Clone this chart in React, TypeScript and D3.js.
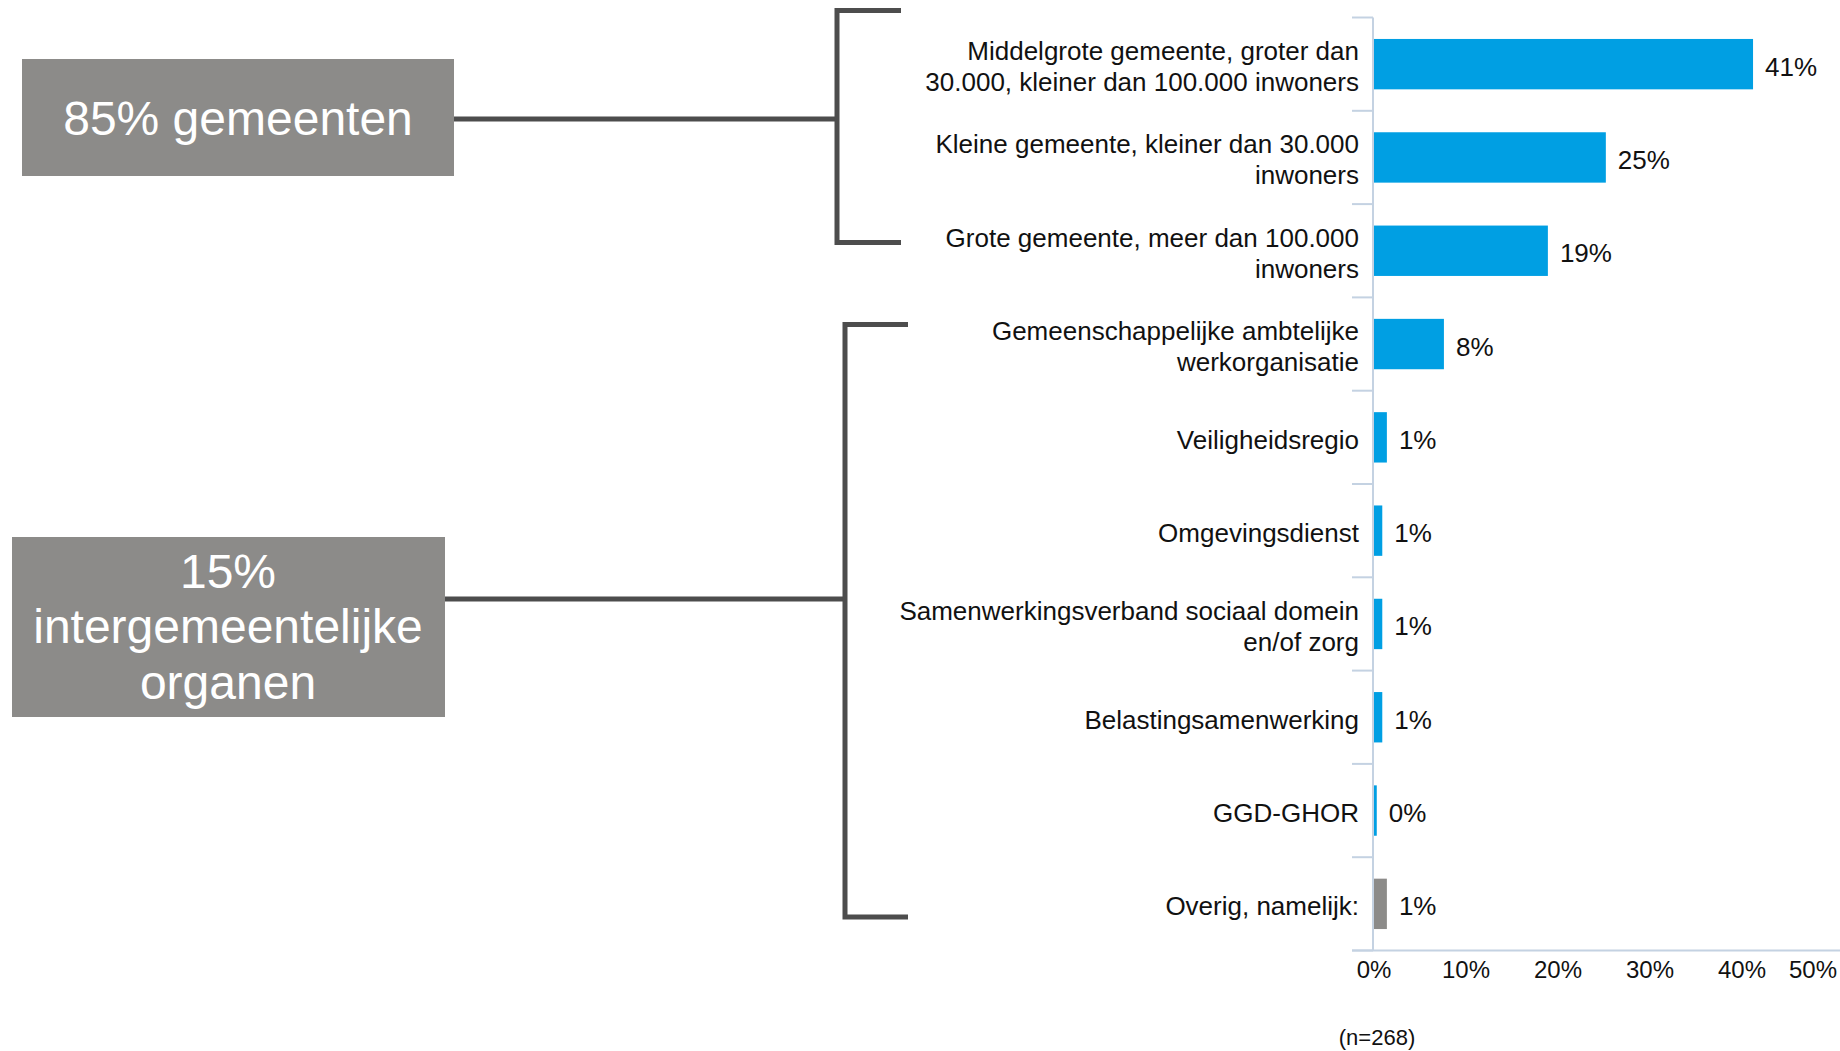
import React from "react";
import * as d3 from "d3";

// ---- data ----
const categoryLines: string[][] = [
  ["Middelgrote gemeente, groter dan", "30.000, kleiner dan 100.000 inwoners"],
  ["Kleine gemeente, kleiner dan 30.000", "inwoners"],
  ["Grote gemeente, meer dan 100.000", "inwoners"],
  ["Gemeenschappelijke ambtelijke", "werkorganisatie"],
  ["Veiligheidsregio"],
  ["Omgevingsdienst"],
  ["Samenwerkingsverband sociaal domein", "en/of zorg"],
  ["Belastingsamenwerking"],
  ["GGD-GHOR"],
  ["Overig, namelijk:"],
];
const values: number[] = [41.2, 25.2, 18.9, 7.6, 1.4, 0.9, 0.9, 0.9, 0.3, 1.4];
const isOther: boolean[] = [false, false, false, false, false, false, false, false, false, true];
const xTicks: number[] = [0, 10, 20, 30, 40, 50];
const groupLabels: string[][] = [["85% gemeenten"], ["15%", "intergemeentelijke", "organen"]];
const sampleNote = "(n=268)";

// ---- layout ----
const W = 1840;
const H = 1051;
const FONT = "'Liberation Sans', Arial, Helvetica, sans-serif";
const BLUE = "#009fe3";
const GREY = "#8c8b89";
const AXIS = "#c4d2e2";
const DARK = "#4d4d4d";

export default function App() {
  const ids = categoryLines.map((_, i) => String(i));
  const x = d3.scaleLinear().domain([0, 50]).range([1374, 1834]);
  const y = d3.scaleBand<string>().domain(ids).range([17.5, 950.5]).paddingInner(0.46).paddingOuter(0.23);
  const yOuter = d3.scaleBand<string>().domain(ids).range([17.5, 950.5]);

  const boundaries = ids.map((id) => yOuter(id) as number).concat([950.5]);

  return (
    <svg width={W} height={H} style={{ position: "absolute", left: 0, top: 0, background: "#fff" }} fontFamily={FONT}>
      {/* group boxes */}
      <rect x={22} y={59} width={432} height={117} fill={GREY} />
      <text x={238} y={118} fill="#fff" fontSize={48} textAnchor="middle" dominantBaseline="central">
        {groupLabels[0][0]}
      </text>
      <rect x={12} y={537} width={433} height={180} fill={GREY} />
      {groupLabels[1].map((t, i) => (
        <text key={i} x={228} y={571 + i * 55.5} fill="#fff" fontSize={48} textAnchor="middle" dominantBaseline="central">
          {t}
        </text>
      ))}

      {/* connectors and brackets */}
      <g stroke={DARK} strokeWidth={5} fill="none">
        <line x1={454} y1={119} x2={837} y2={119} />
        <path d="M901,10.5 H837 V242.5 H901" />
        <line x1={445} y1={599} x2={845} y2={599} />
        <path d="M908,324.5 H845 V917 H908" />
      </g>

      {/* axes */}
      <g stroke={AXIS} strokeWidth={2}>
        <line x1={1373} y1={17.5} x2={1373} y2={950.5} />
        <line x1={1352} y1={950.5} x2={1840} y2={950.5} />
        {boundaries.map((b, i) => (
          <line key={i} x1={1352} y1={b} x2={1373} y2={b} />
        ))}
      </g>

      {/* bars */}
      {values.map((v, i) => (
        <rect
          key={i}
          x={x(0)}
          y={y(ids[i])}
          width={Math.max(x(v) - x(0), 1.5)}
          height={y.bandwidth()}
          fill={isOther[i] ? GREY : BLUE}
        />
      ))}

      {/* value labels */}
      {values.map((v, i) => (
        <text
          key={i}
          x={x(v) + 12}
          y={(y(ids[i]) as number) + y.bandwidth() / 2 + 2.5}
          fontSize={26}
          fill="#111"
          dominantBaseline="central"
        >
          {Math.round(v)}%
        </text>
      ))}

      {/* category labels */}
      {categoryLines.map((lines, i) => {
        const cy = (y(ids[i]) as number) + y.bandwidth() / 2 + 2.5;
        const lh = 31;
        const start = cy - ((lines.length - 1) * lh) / 2;
        return lines.map((t, j) => (
          <text
            key={i + "-" + j}
            x={1359}
            y={start + j * lh}
            fontSize={26}
            fill="#111"
            textAnchor="end"
            dominantBaseline="central"
          >
            {t}
          </text>
        ));
      })}

      {/* x tick labels */}
      {xTicks.map((t, i) => {
        const last = i === xTicks.length - 1;
        return (
          <text
            key={t}
            x={last ? 1837 : x(t)}
            y={969}
            fontSize={24}
            fill="#111"
            textAnchor={last ? "end" : "middle"}
            dominantBaseline="central"
          >
            {t}%
          </text>
        );
      })}

      <text x={1377} y={1037} fontSize={22} fill="#111" textAnchor="middle" dominantBaseline="central">
        {sampleNote}
      </text>
    </svg>
  );
}
